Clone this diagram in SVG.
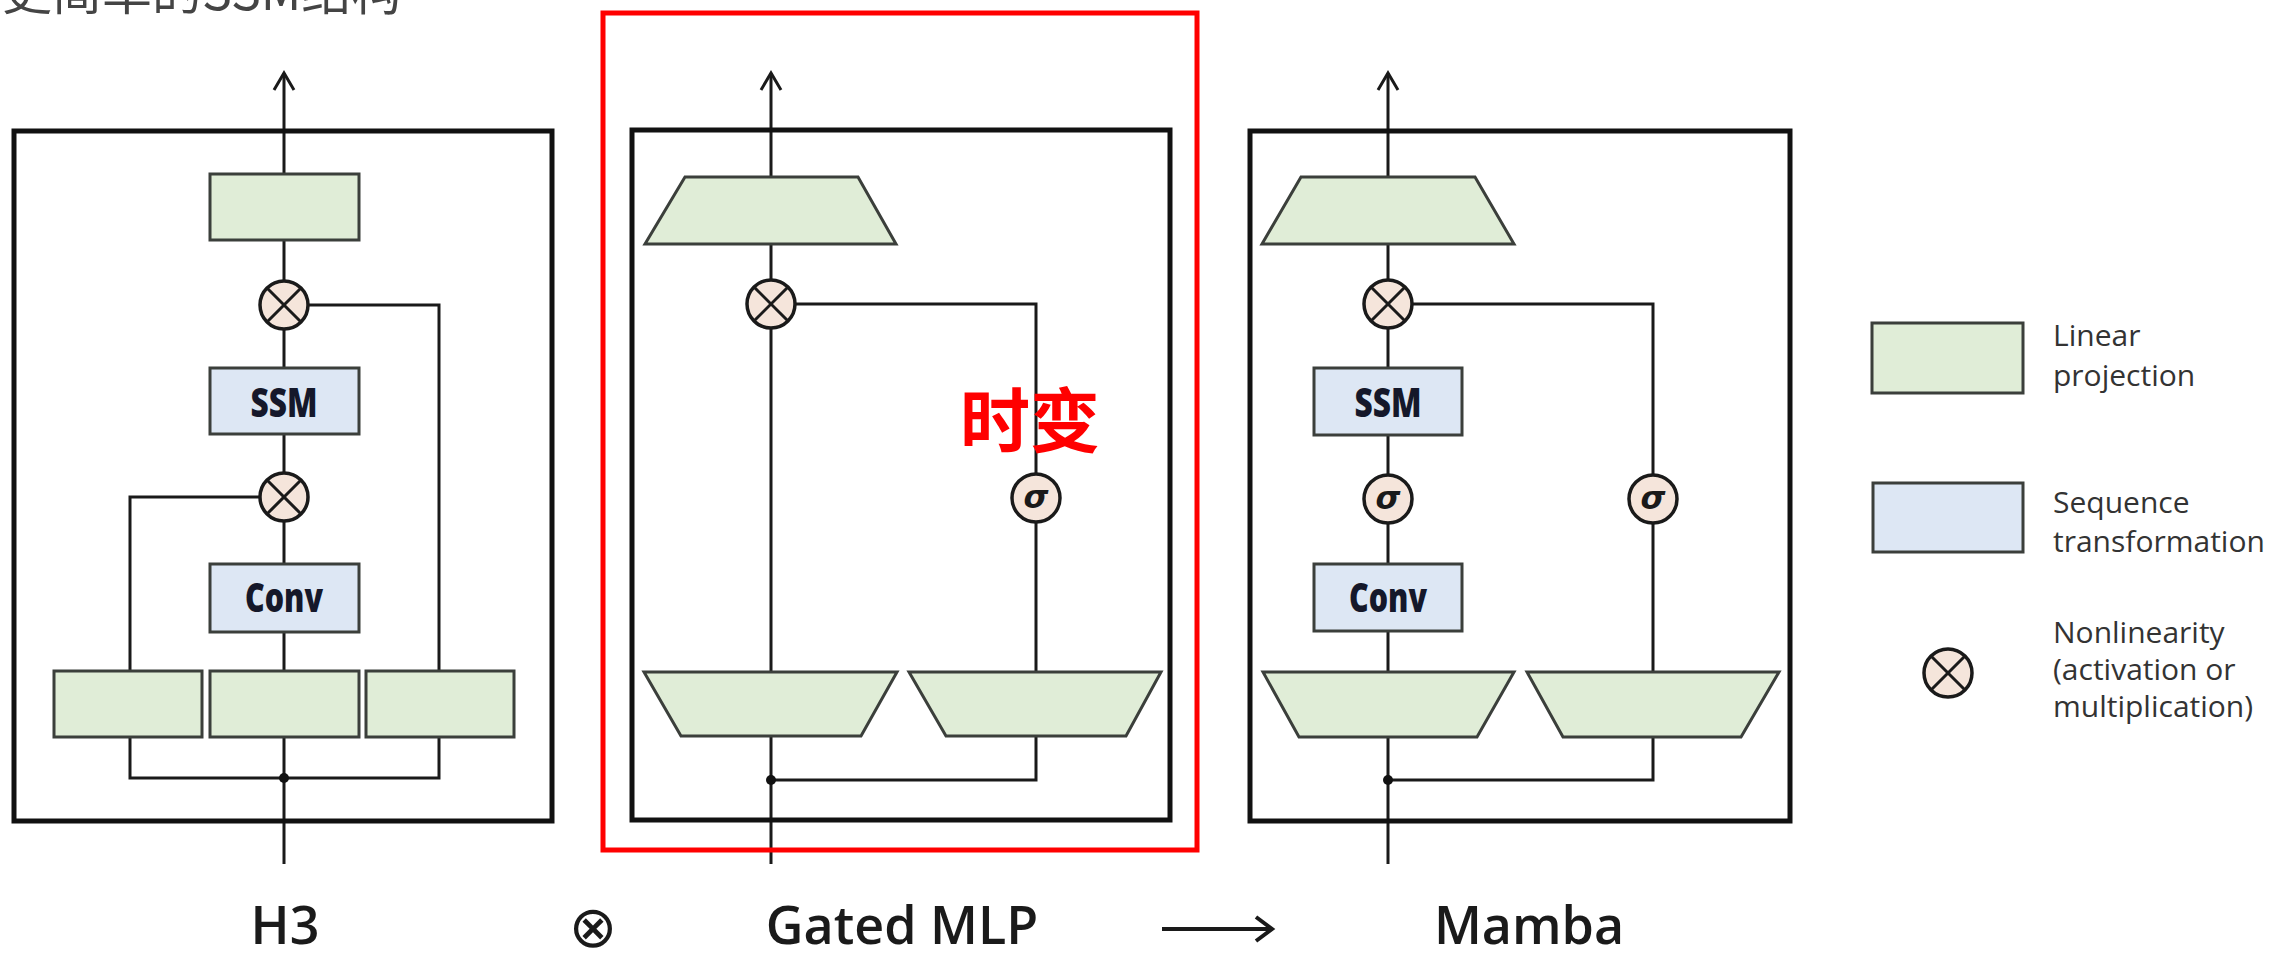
<svg xmlns="http://www.w3.org/2000/svg" width="2286" height="953" viewBox="0 0 2286 953">
  <style>
    .frame { fill: none; stroke: #111; stroke-width: 5; }
    .wire { fill: none; stroke: #1a1a1a; stroke-width: 3; }
    .lin { fill: #e0edd7; stroke: #3b3f3b; stroke-width: 3; }
    .seq { fill: #dde7f4; stroke: #3b3f3b; stroke-width: 3; }
    .op { fill: #f5e5db; stroke: #1a1a1a; stroke-width: 3.5; }
    .opx { stroke: #1a1a1a; stroke-width: 3; }
    .blk { font-family: "Open Sans", "Liberation Sans", sans-serif; font-weight: 800; font-size: 40px; fill: #15182a; text-anchor: middle; }
    .sig { font-family: "DejaVu Sans", "Liberation Sans", sans-serif; font-style: italic; font-weight: bold; font-size: 32px; fill: #1a1a1a; text-anchor: middle; }
    .cap { font-family: "Open Sans", "Liberation Sans", sans-serif; font-weight: 600; font-size: 52px; fill: #1a1a1a; text-anchor: middle; }
    .leg { font-family: "Open Sans", "Liberation Sans", sans-serif; font-size: 30px; fill: #333; }
  </style>
  <defs>
    <marker id="up" markerWidth="24" markerHeight="24" viewBox="-20 -12 24 24" refX="0" refY="0" orient="auto" markerUnits="userSpaceOnUse">
      <path d="M-17,-10 L0,0 L-17,10" fill="none" stroke="#1a1a1a" stroke-width="3"/>
    </marker>
    <g id="mul">
      <circle r="24" class="op"/>
      <line x1="-17" y1="-17" x2="17" y2="17" class="opx"/>
      <line x1="-17" y1="17" x2="17" y2="-17" class="opx"/>
    </g>
    <circle id="act" r="24" class="op"/>
  </defs>

  <rect width="2286" height="953" fill="#fff"/>

  <!-- heading, clipped by the top edge -->
  <text x="2" y="10" font-family="Noto Sans CJK SC, sans-serif" font-size="50" fill="#444">更简单的SSM结构</text>

  <!-- connectors -->
  <g id="connectors">
    <!-- H3 -->
    <path class="wire" d="M284 864 V73" marker-end="url(#up)"/>
    <path class="wire" d="M284 305 H439 V671"/>
    <path class="wire" d="M284 497 H130 V671"/>
    <path class="wire" d="M130 737 V778 H439 V737"/>
    <circle cx="284" cy="778" r="5" fill="#111"/>
    <!-- Gated MLP -->
    <path class="wire" d="M771 864 V73" marker-end="url(#up)"/>
    <path class="wire" d="M771 304 H1036 V672"/>
    <path class="wire" d="M1036 736 V780 H771"/>
    <circle cx="771" cy="780" r="5" fill="#111"/>
    <!-- Mamba -->
    <path class="wire" d="M1388 864 V73" marker-end="url(#up)"/>
    <path class="wire" d="M1388 304 H1653 V672"/>
    <path class="wire" d="M1653 737 V780 H1388"/>
    <circle cx="1388" cy="780" r="5" fill="#111"/>
  </g>

  <!-- H3 block -->
  <g id="h3">
    <rect class="frame" x="14" y="131" width="538" height="690"/>
    <rect class="lin" x="210" y="174" width="149" height="66"/>
    <use href="#mul" x="284" y="305"/>
    <rect class="seq" x="210" y="368" width="149" height="66"/>
    <text class="blk" x="284" y="417" textLength="67" lengthAdjust="spacingAndGlyphs">SSM</text>
    <use href="#mul" x="284" y="497"/>
    <rect class="seq" x="210" y="564" width="149" height="68"/>
    <text class="blk" x="284" y="612" textLength="78" lengthAdjust="spacingAndGlyphs">Conv</text>
    <rect class="lin" x="54" y="671" width="148" height="66"/>
    <rect class="lin" x="210" y="671" width="149" height="66"/>
    <rect class="lin" x="366" y="671" width="148" height="66"/>
    <text class="cap" x="285" y="944">H3</text>
  </g>

  <!-- Gated MLP block -->
  <g id="gated-mlp">
    <rect class="frame" x="632" y="130" width="538" height="690"/>
    <polygon class="lin" points="685,177 858,177 896,244 645,244"/>
    <use href="#mul" x="771" y="304"/>
    <use href="#act" x="1036" y="498"/>
    <text class="sig" x="1036" y="508">σ</text>
    <polygon class="lin" points="644,672 897,672 861,736 681,736"/>
    <polygon class="lin" points="909,672 1161,672 1126,736 946,736"/>
    <text class="cap" x="902" y="944">Gated MLP</text>
  </g>

  <!-- highlight around the gated MLP -->
  <g id="highlight">
    <rect x="603" y="13" width="594" height="837" fill="none" stroke="#ff0000" stroke-width="5"/>
    <text x="960" y="447" font-family="Noto Sans CJK SC, sans-serif" font-weight="bold" font-size="70" fill="#ff0000">时变</text>
  </g>

  <!-- Mamba block -->
  <g id="mamba">
    <rect class="frame" x="1250" y="131" width="540" height="690"/>
    <polygon class="lin" points="1301,177 1475,177 1514,244 1262,244"/>
    <use href="#mul" x="1388" y="304"/>
    <rect class="seq" x="1314" y="368" width="148" height="67"/>
    <text class="blk" x="1388" y="417" textLength="67" lengthAdjust="spacingAndGlyphs">SSM</text>
    <use href="#act" x="1388" y="499"/>
    <text class="sig" x="1388" y="509">σ</text>
    <use href="#act" x="1653" y="499"/>
    <text class="sig" x="1653" y="509">σ</text>
    <rect class="seq" x="1314" y="564" width="148" height="67"/>
    <text class="blk" x="1388" y="612" textLength="78" lengthAdjust="spacingAndGlyphs">Conv</text>
    <polygon class="lin" points="1263,672 1514,672 1477,737 1299,737"/>
    <polygon class="lin" points="1527,672 1779,672 1741,737 1563,737"/>
    <text class="cap" x="1529" y="944">Mamba</text>
  </g>

  <!-- operators between the captions -->
  <g id="caption-ops">
    <text x="593" y="947" font-family="DejaVu Sans, sans-serif" font-size="58" fill="#1a1a1a" text-anchor="middle">⊗</text>
    <line x1="1162" y1="929" x2="1270" y2="929" stroke="#1a1a1a" stroke-width="4"/>
    <path d="M1256,917 L1272,929 L1256,941" fill="none" stroke="#1a1a1a" stroke-width="4"/>
  </g>

  <!-- legend -->
  <g id="legend">
    <rect class="lin" x="1872" y="323" width="151" height="70"/>
    <text class="leg" x="2053" y="346">Linear</text>
    <text class="leg" x="2053" y="386">projection</text>
    <rect class="seq" x="1873" y="483" width="150" height="69"/>
    <text class="leg" x="2053" y="513">Sequence</text>
    <text class="leg" x="2053" y="552">transformation</text>
    <use href="#mul" x="1948" y="673"/>
    <text class="leg" x="2053" y="643">Nonlinearity</text>
    <text class="leg" x="2053" y="680">(activation or</text>
    <text class="leg" x="2053" y="717">multiplication)</text>
  </g>
</svg>
